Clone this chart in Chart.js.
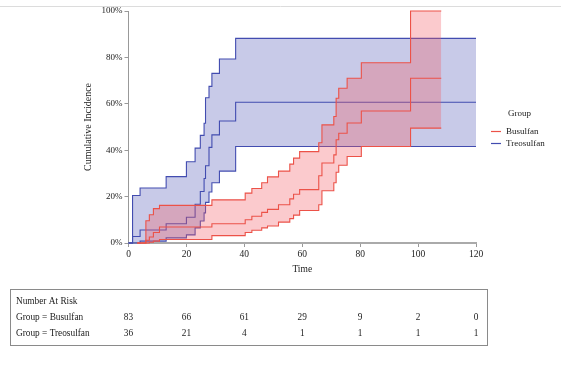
<!DOCTYPE html>
<html><head><meta charset="utf-8">
<script src="https://cdn.jsdelivr.net/npm/chart.js@4/dist/chart.umd.min.js"></script>
<style>html,body{margin:0;padding:0;background:#fff}#wrap{width:561px;height:368px;position:relative}</style>
</head><body><div id="wrap"><canvas id="c" width="561" height="368"></canvas></div>
<script>
// Treosulfan (blue) cumulative incidence with 95% CI (percent)
const treoTimes = [0, 1.4, 4, 13, 20, 23, 24.8, 26.1, 26.6, 27.8, 28.8, 31.4, 37, 120];
const treoEst   = [0, 2.8, 5.6, 8.3, 11.1, 16.7, 22.2, 27.8, 33.3, 41.2, 46.6, 52.6, 60.7, 60.7];
const treoUpper = [0, 20.5, 23.7, 28.6, 35, 40.9, 46.4, 51.6, 62.6, 67.5, 73.1, 79.3, 88.2, 88.2];
const treoLower = [0, 0, 0.8, 2.2, 3.5, 6.5, 9.5, 13, 17.5, 22, 26, 31, 41.6, 41.6];
// Busulfan (red)
const busuTimes = [3, 6, 7.2, 8.6, 10.7, 28.8, 40.3, 42.6, 46, 48, 51.8, 55.7, 57, 59.1, 65.7, 66.8, 70.9, 71.7, 72.6, 75.5, 80.4, 97.4, 108];
const busuEst   = [0, 1.2, 2.6, 4.5, 6.9, 8.3, 10, 11.5, 13.2, 14.5, 16.5, 19, 21, 23, 29, 34.5, 38, 44.5, 47.3, 51.7, 56.9, 71, 71];
const busuUpper = [0, 9.6, 12.2, 14.8, 16.2, 18.6, 21.5, 23.5, 26, 28.5, 31, 34, 36.6, 39.4, 43.2, 50.9, 54.5, 62.4, 66.7, 71, 77.7, 100, 100];
const busuLower = [0, 0, 0.3, 0.8, 1.5, 3.2, 4.5, 5.5, 6.5, 7.3, 9, 10.5, 12, 14, 16.5, 22.5, 26, 30.5, 33.5, 37.3, 41.6, 49.5, 49.5];
// Axis ticks and risk table
const xTicks = [0, 20, 40, 60, 80, 100, 120];
const yTicks = [0, 20, 40, 60, 80, 100];
const groups = ['Busulfan', 'Treosulfan'];
const riskBusulfan = [83, 66, 61, 29, 9, 2, 0];
const riskTreosulfan = [36, 21, 4, 1, 1, 1, 1];

const RED = 'rgb(236,82,72)';
const BLUE = 'rgb(66,76,176)';
const RED_FILL = 'rgba(242,90,100,0.32)';
const BLUE_FILL = 'rgba(72,78,178,0.30)';
const SERIF = '"Liberation Serif", "DejaVu Serif", serif';

const pts = (xs, ys) => xs.map((x, i) => ({x: x, y: ys[i]}));
const lineDs = (label, data, color, extra) => Object.assign({
  label: label, data: data, borderColor: color, borderWidth: 1.1,
  pointRadius: 0, stepped: 'before', tension: 0, fill: false, clip: false
}, extra || {});

const datasets = [
  lineDs('Busulfan', pts(busuTimes, busuEst), RED),
  lineDs('Busulfan lower', pts(busuTimes, busuLower), RED),
  lineDs('Busulfan upper', pts(busuTimes, busuUpper), RED, {fill: {target: 1}, backgroundColor: RED_FILL}),
  lineDs('Treosulfan', pts(treoTimes, treoEst), BLUE),
  lineDs('Treosulfan lower', pts(treoTimes, treoLower), BLUE),
  lineDs('Treosulfan upper', pts(treoTimes, treoUpper), BLUE, {fill: {target: 4}, backgroundColor: BLUE_FILL})
];

const extras = {
  id: 'extras',
  beforeDraw(chart) {
    const ctx = chart.ctx;
    ctx.save();
    ctx.strokeStyle = '#dcdcdc'; ctx.lineWidth = 1;
    ctx.beginPath(); ctx.moveTo(0, 6.5); ctx.lineTo(561, 6.5); ctx.stroke();
    ctx.restore();
  },
  afterDraw(chart) {
    const ctx = chart.ctx;
    const xs = chart.scales.x;
    ctx.save();
    // legend
    ctx.font = '9px ' + SERIF; ctx.fillStyle = '#222'; ctx.textBaseline = 'middle';
    ctx.textAlign = 'left';
    ctx.fillText('Group', 508, 114);
    const cols = [RED, BLUE];
    groups.forEach((g, i) => {
      const y = 131.5 + i * 12;
      ctx.strokeStyle = cols[i]; ctx.lineWidth = 1.2;
      ctx.beginPath(); ctx.moveTo(491, y); ctx.lineTo(501, y); ctx.stroke();
      ctx.fillStyle = '#222';
      ctx.fillText(g, 506, y);
    });
    // risk table
    ctx.font = '9.3px ' + SERIF;
    ctx.strokeStyle = '#8a8a8a'; ctx.lineWidth = 1;
    ctx.strokeRect(10.5, 289.5, 477, 56);
    ctx.fillStyle = '#222'; ctx.textAlign = 'left';
    ctx.fillText('Number At Risk', 16, 302);
    ctx.fillText('Group = Busulfan', 16, 318);
    ctx.fillText('Group = Treosulfan', 16, 334);
    ctx.textAlign = 'center';
    xTicks.forEach((t, i) => {
      const px = xs.getPixelForValue(t);
      ctx.fillText(String(riskBusulfan[i]), px, 318);
      ctx.fillText(String(riskTreosulfan[i]), px, 334);
    });
    ctx.restore();
  }
};

new Chart(document.getElementById('c'), {
  type: 'line',
  data: {datasets: datasets},
  options: {
    responsive: false, animation: false, devicePixelRatio: 1,
    layout: {padding: {left: 82, right: 85, top: 11, bottom: 93}},
    plugins: {legend: {display: false}, tooltip: {enabled: false}},
    scales: {
      x: {
        type: 'linear', min: 0, max: 120,
        afterBuildTicks: (s) => { s.ticks = xTicks.map(v => ({value: v})); },
        afterFit: (s) => { s.height = 32; },
        grid: {drawOnChartArea: false, drawTicks: true, tickLength: 4, color: '#999'},
        border: {display: true, color: '#aaa', width: 2},
        ticks: {font: {family: SERIF, size: 9.5}, color: '#222', padding: 2},
        title: {display: true, text: 'Time', font: {family: SERIF, size: 9.5}, color: '#222', padding: 0}
      },
      y: {
        type: 'linear', min: 0, max: 100,
        afterBuildTicks: (s) => { s.ticks = yTicks.map(v => ({value: v})); },
        afterFit: (s) => { s.width = 46.5; },
        grid: {drawOnChartArea: false, drawTicks: true, tickLength: 4, color: '#999'},
        border: {display: true, color: '#999', width: 1},
        ticks: {font: {family: SERIF, size: 9}, color: '#222', padding: 2, callback: (v) => v + '%'},
        title: {display: true, text: 'Cumulative Incidence', font: {family: SERIF, size: 10}, color: '#222', padding: 0}
      }
    }
  },
  plugins: [extras]
});
</script></body></html>
